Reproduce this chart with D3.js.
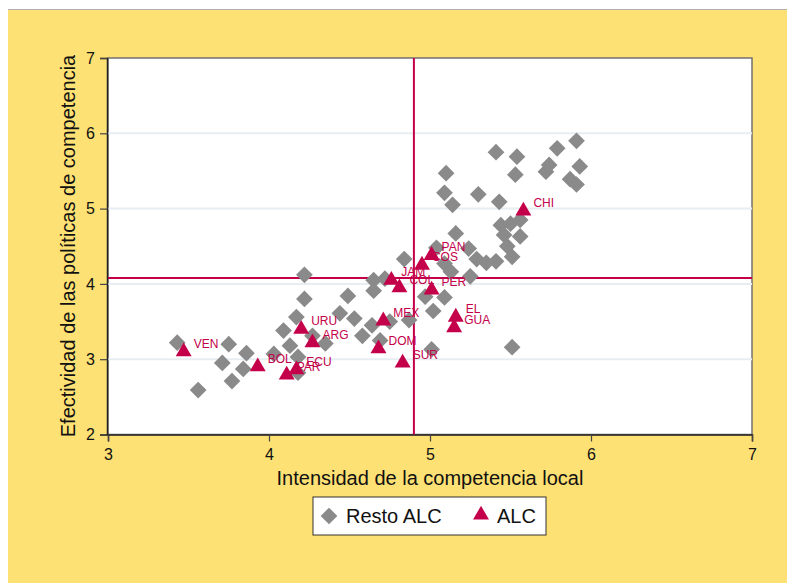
<!DOCTYPE html>
<html><head><meta charset="utf-8">
<script src="https://cdn.jsdelivr.net/npm/d3@7"></script>
<style>body{margin:0;background:#fff}svg{display:block;font-family:"Liberation Sans",Arial,sans-serif}</style>
</head><body>
<div id="chart"></div>
<script>
const restoX = [3.43,3.75,3.86,3.71,3.84,3.77,3.56,4.09,4.03,4.13,4.17,4.22,4.22,4.27,4.35,4.18,4.18,4.44,4.49,4.53,4.58,4.64,4.69,4.65,4.65,4.72,4.75,4.84,4.87,5.01,4.97,5.02,5.09,5.04,5.16,5.13,5.09,5.25,5.51,5.29,5.35,5.41,5.51,5.24,5.41,5.54,5.53,5.10,5.09,5.14,5.30,5.43,5.91,5.79,5.74,5.72,5.93,5.87,5.91,5.44,5.50,5.56,5.46,5.56,5.48];
const restoY = [3.22,3.20,3.08,2.95,2.87,2.71,2.59,3.38,3.07,3.18,3.56,4.12,3.80,3.31,3.21,3.03,2.82,3.61,3.84,3.54,3.31,3.45,3.25,4.05,3.91,4.07,3.50,4.33,3.52,3.13,3.83,3.64,3.82,4.48,4.67,4.16,4.27,4.10,3.16,4.33,4.28,4.30,4.36,4.47,5.75,5.69,5.45,5.47,5.21,5.05,5.19,5.09,5.90,5.80,5.58,5.49,5.56,5.39,5.32,4.78,4.80,4.85,4.65,4.63,4.50];
const alcLabels = ["VEN","BOL","PAR","ECU","URU","ARG","MEX","DOM","SUR","JAM","COL","COS","PAN","PER","EL","GUA","CHI"];
const alcX = [3.47,3.93,4.11,4.17,4.20,4.27,4.71,4.68,4.83,4.76,4.81,4.95,5.01,5.01,5.16,5.15,5.58];
const alcY = [3.10,2.90,2.79,2.86,3.40,3.22,3.51,3.14,2.95,4.05,3.95,4.25,4.38,3.92,3.56,3.42,4.97];
const xTicks = [3,4,5,6,7];
const yTicks = [2,3,4,5,6,7];
const refX = 4.9, refY = 4.08;

const W = 787, H = 583;
const svg = d3.select("#chart").append("svg").attr("width", W).attr("height", H);
const yellow = "#FEE174", red = "#C4004A", gray = "#8A8A8A";

svg.append("rect").attr("x",8).attr("y",10).attr("width",W-8).attr("height",H-10).attr("fill",yellow);
svg.append("line").attr("x1",8).attr("x2",W).attr("y1",9.5).attr("y2",9.5).attr("stroke","#b0b0b0");

const x = d3.scaleLinear().domain([3,7]).range([108,752]);
const y = d3.scaleLinear().domain([2,7]).range([434.5,58]);

svg.append("rect").attr("x",x(3)).attr("y",y(7)).attr("width",x(7)-x(3)).attr("height",y(2)-y(7))
  .attr("fill","#fff").attr("stroke","#707070").attr("stroke-width",1.5);

// gridlines
svg.append("g").selectAll("line").data(yTicks.filter(d=>d>2&&d<7)).join("line")
  .attr("x1",x(3)).attr("x2",x(7)).attr("y1",d=>y(d)).attr("y2",d=>y(d))
  .attr("stroke","#E6EEF2").attr("stroke-width",2);

// axes
const xAxis = svg.append("g").attr("transform",`translate(0,${y(2)})`)
  .call(d3.axisBottom(x).tickValues(xTicks).tickSize(7).tickPadding(7).tickFormat(d3.format("d")));
const yAxis = svg.append("g").attr("transform",`translate(${x(3)-1},0)`)
  .call(d3.axisLeft(y).tickValues(yTicks).tickSize(7).tickPadding(5).tickFormat(d3.format("d")));
[xAxis,yAxis].forEach(g=>{
  g.select(".domain").attr("stroke","#222").attr("stroke-width",1.5);
  g.selectAll(".tick line").attr("stroke","#444").attr("stroke-width",1.2);
  g.selectAll(".tick text").attr("font-size",16).attr("fill","#111").attr("font-family","Liberation Sans, Arial, sans-serif");
});

// reference lines
svg.append("line").attr("x1",x(refX)).attr("x2",x(refX)).attr("y1",y(7)).attr("y2",y(2))
  .attr("stroke",red).attr("stroke-width",2);
svg.append("line").attr("x1",x(3)).attr("x2",x(7)).attr("y1",y(refY)).attr("y2",y(refY))
  .attr("stroke",red).attr("stroke-width",2);

// diamonds
const diamond = d3.symbol().type(d3.symbolSquare).size(140);
svg.append("g").selectAll("path").data(restoX.map((v,i)=>[v,restoY[i]])).join("path")
  .attr("d",diamond).attr("fill",gray)
  .attr("transform",d=>`translate(${x(d[0])},${y(d[1])}) rotate(45)`);

// triangles
const tri = d3.symbol().type(d3.symbolTriangle).size(110);
const alc = alcX.map((v,i)=>({x:v,y:alcY[i],l:alcLabels[i]}));
svg.append("g").selectAll("path").data(alc).join("path")
  .attr("d",tri).attr("fill",red)
  .attr("transform",d=>`translate(${x(d.x)},${y(d.y)})`);
svg.append("g").selectAll("text").data(alc).join("text")
  .attr("x",d=>x(d.x)+10).attr("y",d=>y(d.y)-4)
  .attr("font-size",12).attr("fill",red).text(d=>d.l);

// titles
svg.append("text").attr("x",430).attr("y",485).attr("text-anchor","middle")
  .attr("font-size",20).attr("fill","#111").text("Intensidad de la competencia local");
svg.append("text").attr("transform",`translate(75,246) rotate(-90)`).attr("text-anchor","middle")
  .attr("font-size",20).attr("fill","#111").text("Efectividad de las políticas de competencia");

// legend
const lg = svg.append("g");
lg.append("rect").attr("x",313).attr("y",497).attr("width",233).attr("height",38)
  .attr("fill","#fff").attr("stroke","#333").attr("stroke-width",1);
lg.append("path").attr("d",diamond).attr("fill",gray).attr("transform","translate(329,516) rotate(45)");
lg.append("text").attr("x",346).attr("y",523).attr("font-size",20).attr("fill","#111").text("Resto ALC");
lg.append("path").attr("d",tri).attr("fill",red).attr("transform","translate(481,515)");
lg.append("text").attr("x",497).attr("y",523).attr("font-size",20).attr("fill","#111").text("ALC");
</script>
</body></html>
